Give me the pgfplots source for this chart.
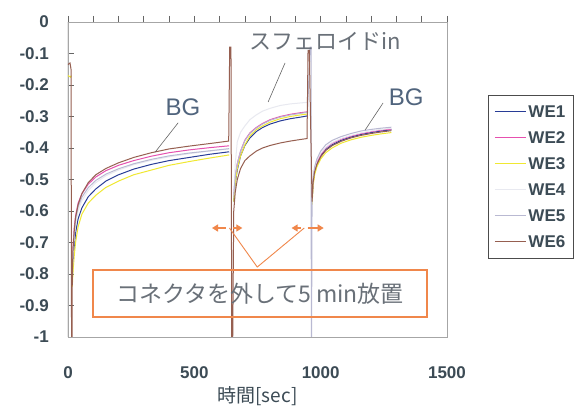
\documentclass[border=0pt]{standalone}
\usepackage{fontspec}
\setmainfont{Liberation Sans}
\newfontfamily\jp{Noto Sans CJK JP}
\usepackage{pgfplots}
\pgfplotsset{compat=1.18}
\usetikzlibrary{arrows.meta}
\definecolor{weA}{RGB}{40,60,150}
\definecolor{weB}{RGB}{230,80,175}
\definecolor{weC}{RGB}{240,232,50}
\definecolor{weD}{RGB}{232,233,240}
\definecolor{weE}{RGB}{185,185,210}
\definecolor{weF}{RGB}{150,95,80}
\definecolor{tickc}{RGB}{60,75,85}
\definecolor{annc}{RGB}{80,100,125}
\definecolor{jpc}{RGB}{105,112,120}
\definecolor{orng}{RGB}{240,135,75}
\begin{document}
\color{tickc}%
\begin{tikzpicture}
\useasboundingbox (0,0) rectangle (582pt,407pt);
\fill[white] (0,0) rectangle (582pt,407pt);
\begin{axis}[
  at={(68pt,70pt)}, anchor=south west,
  scale only axis, width=379pt, height=315pt,
  xmin=0, xmax=1500, ymin=-1, ymax=0,
  xtick={0,500,1000,1500}, xticklabels={0,500,1000,1500},
  minor x tick num=4,
  xtick pos=top, xticklabel pos=bottom, xtick align=outside,
  ytick={0,-0.1,-0.2,-0.3,-0.4,-0.5,-0.6,-0.7,-0.8,-0.9,-1},
  yticklabels={0,-0.1,-0.2,-0.3,-0.4,-0.5,-0.6,-0.7,-0.8,-0.9,-1},
  ytick pos=left, ytick align=inside,
  major tick length=6pt, minor tick length=6pt,
  tick style={draw=black!60, line width=0.6pt},
  axis line style={draw=black!35, line width=0.6pt},
  ticklabel style={font=\bfseries\fontsize{17}{17}\selectfont, inner sep=0pt},
  yticklabel style={xshift=-19pt},
  xticklabel style={yshift=-23pt},
  xlabel={\jp 時間[sec]},
  xlabel style={at={(axis description cs:0.5,0)}, anchor=center, yshift=-59pt, font=\fontsize{19}{19}\selectfont},
  unbounded coords=jump,
  every axis plot/.append style={line width=1pt},
  legend style={at={(1,1)}, anchor=north west, xshift=41pt, yshift=-73pt,
    draw=black!70, line width=0.6pt, font=\bfseries\fontsize{17}{17}\selectfont,
    inner xsep=6pt, inner ysep=8pt, row sep=9pt,
    nodes={inner sep=2pt, text height=12pt, text depth=1pt},
    /tikz/every even column/.append style={column sep=10pt}},
  legend cell align=left,
  legend image code/.code={\draw[#1, line width=1.2pt] (0pt,0pt) -- (31pt,0pt);},
]
\addplot[draw=weA] coordinates {(17,-0.82)(20,-0.76)(25,-0.71)(30,-0.67)(40,-0.625)(55,-0.59)(80,-0.555)(110,-0.53)(150,-0.505)(200,-0.485)(260,-0.467)(330,-0.452)(400,-0.44)(480,-0.43)(560,-0.42)(638,-0.412)(645,nan)
(656,-0.57)(662,-0.51)(670,-0.47)(683,-0.425)(700,-0.392)(720,-0.368)(745,-0.348)(770,-0.335)(800,-0.324)(840,-0.314)(880,-0.307)(920,-0.302)(948,-0.298)(955,nan)
(966,-0.57)(970,-0.51)(976,-0.475)(985,-0.45)(1000,-0.425)(1020,-0.405)(1045,-0.39)(1080,-0.376)(1120,-0.365)(1160,-0.357)(1200,-0.351)(1240,-0.346)(1280,-0.342)};
\addlegendentry{WE1}
\addplot[draw=weB] coordinates {(17,-0.78)(20,-0.71)(25,-0.65)(30,-0.615)(40,-0.575)(55,-0.545)(80,-0.515)(110,-0.492)(150,-0.472)(200,-0.455)(260,-0.44)(330,-0.426)(400,-0.415)(480,-0.406)(560,-0.399)(638,-0.393)(645,nan)
(656,-0.55)(662,-0.49)(670,-0.45)(683,-0.41)(700,-0.375)(720,-0.352)(745,-0.335)(770,-0.322)(800,-0.31)(840,-0.30)(880,-0.293)(920,-0.288)(948,-0.285)(955,nan)
(966,-0.56)(970,-0.505)(976,-0.47)(985,-0.445)(1000,-0.42)(1020,-0.40)(1045,-0.385)(1080,-0.372)(1120,-0.362)(1160,-0.354)(1200,-0.348)(1240,-0.343)(1280,-0.34)};
\addlegendentry{WE2}
\addplot[draw=weC] coordinates {(0,-0.17)(10,-0.175)(13,-0.17)(14,nan)
(17,-0.84)(20,-0.79)(25,-0.74)(30,-0.70)(40,-0.65)(55,-0.61)(80,-0.575)(110,-0.55)(150,-0.525)(200,-0.505)(260,-0.485)(330,-0.47)(400,-0.455)(480,-0.443)(560,-0.432)(638,-0.422)(645,nan)
(656,-0.57)(662,-0.51)(670,-0.465)(683,-0.425)(700,-0.39)(720,-0.362)(745,-0.342)(770,-0.33)(800,-0.318)(840,-0.307)(880,-0.30)(920,-0.295)(948,-0.292)(955,nan)
(966,-0.58)(970,-0.52)(976,-0.485)(985,-0.46)(1000,-0.435)(1020,-0.415)(1045,-0.40)(1080,-0.385)(1120,-0.374)(1160,-0.366)(1200,-0.36)(1240,-0.355)(1280,-0.351)};
\addlegendentry{WE3}
\addplot[draw=weD] coordinates {(17,-0.80)(20,-0.74)(25,-0.68)(30,-0.64)(40,-0.60)(55,-0.567)(80,-0.535)(110,-0.51)(150,-0.488)(200,-0.47)(260,-0.453)(330,-0.439)(400,-0.428)(480,-0.418)(560,-0.41)(638,-0.403)(645,nan)
(656,-0.55)(662,-0.45)(670,-0.38)(683,-0.35)(700,-0.33)(720,-0.31)(745,-0.295)(770,-0.283)(800,-0.274)(840,-0.265)(880,-0.26)(920,-0.257)(948,-0.255)(955,nan)
(966,-0.56)(970,-0.50)(976,-0.465)(985,-0.44)(1000,-0.417)(1020,-0.398)(1045,-0.383)(1080,-0.37)(1120,-0.36)(1160,-0.352)(1200,-0.346)(1240,-0.341)(1280,-0.338)};
\addlegendentry{WE4}
\addplot[draw=weE] coordinates {(17,-0.79)(20,-0.72)(25,-0.665)(30,-0.627)(40,-0.587)(55,-0.556)(80,-0.526)(110,-0.503)(150,-0.483)(200,-0.466)(260,-0.45)(330,-0.436)(400,-0.425)(480,-0.416)(560,-0.409)(638,-0.402)(645,nan)
(656,-0.55)(662,-0.49)(670,-0.45)(683,-0.41)(700,-0.377)(720,-0.354)(745,-0.337)(770,-0.324)(800,-0.312)(840,-0.302)(880,-0.295)(920,-0.29)(948,-0.287)(958,-0.08)(962,-0.08)(963,-1)(964,-1)
(966,-0.55)(970,-0.495)(976,-0.46)(985,-0.435)(1000,-0.41)(1020,-0.39)(1045,-0.376)(1080,-0.364)(1120,-0.354)(1160,-0.346)(1200,-0.341)(1240,-0.337)(1280,-0.334)};
\addlegendentry{WE5}
\addplot[draw=weF] coordinates {(0,-0.135)(8,-0.13)(12,-0.15)(14,-1)(16,-1)(17,-0.80)(20,-0.72)(25,-0.66)(30,-0.62)(40,-0.58)(55,-0.545)(80,-0.51)(110,-0.485)(150,-0.465)(200,-0.447)(260,-0.43)(330,-0.415)(400,-0.403)(480,-0.394)(560,-0.386)(636,-0.378)(640,-0.08)(645,-0.08)(648,-1)(652,-1)
(656,-0.60)(662,-0.54)(670,-0.50)(683,-0.465)(700,-0.44)(720,-0.425)(745,-0.41)(770,-0.40)(800,-0.392)(840,-0.384)(880,-0.378)(920,-0.373)(946,-0.37)(950,-0.09)(955,-0.09)
(966,-0.57)(970,-0.51)(976,-0.476)(985,-0.452)(1000,-0.428)(1020,-0.408)(1045,-0.393)(1080,-0.379)(1120,-0.368)(1160,-0.36)(1200,-0.354)(1240,-0.349)(1280,-0.345)};
\addlegendentry{WE6}
\draw[draw=black!75, line width=1pt] (axis cs:0,0) -- (axis cs:0,-1);
\draw[draw=black!60, line width=0.6pt] (axis cs:436,-0.32) -- (axis cs:345,-0.413);
\draw[draw=black!60, line width=0.6pt] (axis cs:859,-0.13) -- (axis cs:792,-0.254);
\draw[draw=black!60, line width=0.6pt] (axis cs:1247,-0.257) -- (axis cs:1176,-0.343);
\draw[draw=orng, line width=1.6pt] (axis cs:99,-0.787) -- (axis cs:1422,-0.787) -- (axis cs:1422,-0.937) -- (axis cs:99,-0.937) -- cycle;
\draw[draw=orng, line width=0.9pt] (axis cs:639,-0.654) -- (axis cs:749,-0.778) -- (axis cs:935,-0.654);
\draw[draw=orng, fill=orng, line width=1.3pt, -{Triangle[length=6pt,width=7pt]}] (axis cs:625,-0.654) -- (axis cs:570,-0.654);
\draw[draw=orng, fill=orng, line width=1.3pt, -{Triangle[length=6pt,width=7pt]}] (axis cs:652,-0.654) -- (axis cs:690,-0.654);
\draw[draw=orng, fill=orng, line width=1.3pt, -{Triangle[length=6pt,width=7pt]}] (axis cs:922,-0.654) -- (axis cs:885,-0.654);
\draw[draw=orng, fill=orng, line width=1.3pt, -{Triangle[length=6pt,width=7pt]}] (axis cs:948,-0.654) -- (axis cs:1012,-0.654);
\coordinate (bgA) at (axis cs:455,-0.27);
\coordinate (sph) at (axis cs:1018,-0.063);
\coordinate (bgB) at (axis cs:1339,-0.238);
\coordinate (box) at (axis cs:760,-0.862);
\end{axis}
\node[font=\fontsize{24}{24}\selectfont, text=annc] at (bgA) {BG};
\node[font=\fontsize{24}{24}\selectfont, text=annc] at (bgB) {BG};
\node[font=\jp\fontsize{22}{22}\selectfont, text=jpc] at (sph) {スフェロイドin};
\node[font=\jp\fontsize{23}{23}\selectfont, text=jpc] at (box) {コネクタを外して5 min放置};
\end{tikzpicture}
\end{document}
